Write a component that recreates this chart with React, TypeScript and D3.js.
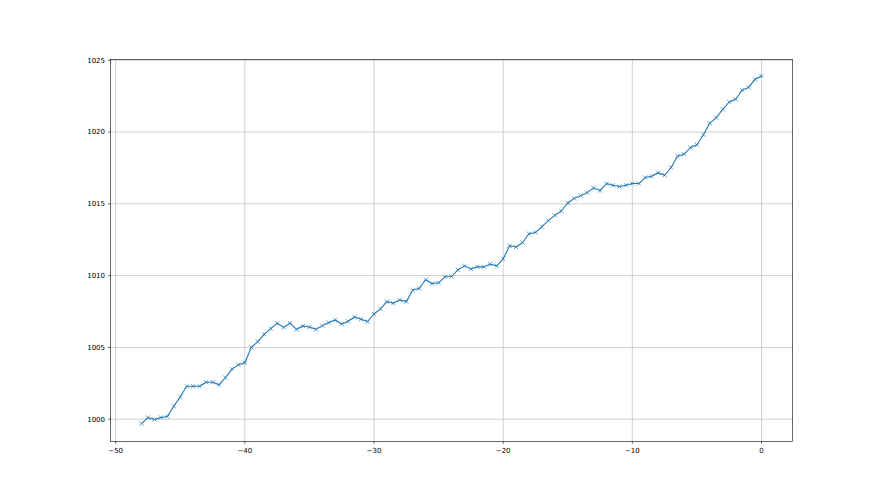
import React from "react";
import * as d3 from "d3";

const xValues: number[] = [
  -48, -47.5, -47, -46.5, -46, -45.5, -45, -44.5, -44, -43.5, -43, -42.5, -42, -41.5, -41, -40.5,
  -40, -39.5, -39, -38.5, -38, -37.5, -37, -36.5, -36, -35.5, -35, -34.5, -34, -33.5, -33, -32.5,
  -32, -31.5, -31, -30.5, -30, -29.5, -29, -28.5, -28, -27.5, -27, -26.5, -26, -25.5, -25, -24.5,
  -24, -23.5, -23, -22.5, -22, -21.5, -21, -20.5, -20, -19.5, -19, -18.5, -18, -17.5, -17, -16.5,
  -16, -15.5, -15, -14.5, -14, -13.5, -13, -12.5, -12, -11.5, -11, -10.5, -10, -9.5, -9, -8.5,
  -8, -7.5, -7, -6.5, -6, -5.5, -5, -4.5, -4, -3.5, -3, -2.5, -2, -1.5, -1, -0.5, 0,
];

const yValues: number[] = [
  999.7, 1000.12, 999.98, 1000.12, 1000.19, 1000.9, 1001.56, 1002.3, 1002.3, 1002.3, 1002.58, 1002.58,
  1002.4, 1002.9, 1003.49, 1003.79, 1003.93, 1005.0, 1005.4, 1005.91, 1006.31, 1006.68, 1006.4, 1006.7,
  1006.26, 1006.49, 1006.42, 1006.26, 1006.52, 1006.73, 1006.91, 1006.63, 1006.82, 1007.12, 1006.96, 1006.8,
  1007.33, 1007.68, 1008.19, 1008.08, 1008.31, 1008.19, 1009.0, 1009.1, 1009.71, 1009.45, 1009.5, 1009.92,
  1009.94, 1010.4, 1010.68, 1010.47, 1010.61, 1010.61, 1010.8, 1010.68, 1011.17, 1012.08, 1011.99, 1012.31,
  1012.92, 1013.01, 1013.41, 1013.83, 1014.2, 1014.5, 1015.06, 1015.38, 1015.57, 1015.78, 1016.11, 1015.92,
  1016.41, 1016.29, 1016.2, 1016.3, 1016.41, 1016.41, 1016.83, 1016.92, 1017.16, 1016.99, 1017.53, 1018.32,
  1018.46, 1018.92, 1019.11, 1019.81, 1020.62, 1021.0, 1021.58, 1022.09, 1022.28, 1022.91, 1023.11, 1023.67,
  1023.9,
];

const xTicks: number[] = [-50, -40, -30, -20, -10, 0];
const yTicks: number[] = [1000, 1005, 1010, 1015, 1020, 1025];

const W = 880;
const H = 495;
const left = 110.5;
const right = 792.5;
const top = 59.5;
const bottom = 441.5;
const color = "#1f77b4";
const font = "DejaVu Sans, sans-serif";
const fs = 7;

export default function App() {
  const x = d3.scaleLinear().domain([-50.4, 2.4]).range([left, right]);
  const y = d3.scaleLinear().domain([998.45, 1025.05]).range([bottom, top]);
  const pts = xValues.map((v, i) => [v, yValues[i]] as [number, number]);
  const line = d3
    .line<[number, number]>()
    .x((d) => x(d[0]))
    .y((d) => y(d[1]));
  const fmt = (v: number) => (v < 0 ? "\u2212" + Math.abs(v) : String(v));
  const m = 2.1;
  return (
    <svg
      width={W}
      height={H}
      style={{ position: "absolute", left: 0, top: 0, background: "#fff" }}
    >
      <rect x={0} y={0} width={W} height={H} fill="#fff" />
      {xTicks.map((t) => (
        <line key={"gx" + t} x1={x(t)} x2={x(t)} y1={top} y2={bottom} stroke="#b0b0b0" strokeWidth={0.6} />
      ))}
      {yTicks.map((t) => (
        <line key={"gy" + t} x1={left} x2={right} y1={y(t)} y2={y(t)} stroke="#b0b0b0" strokeWidth={0.6} />
      ))}
      <path d={line(pts) || ""} fill="none" stroke={color} strokeWidth={1.05} strokeLinejoin="round" />
      {pts.map((p, i) => {
        const cx = x(p[0]);
        const cy = y(p[1]);
        return (
          <path
            key={"m" + i}
            d={`M${cx - m},${cy - m}L${cx + m},${cy + m}M${cx - m},${cy + m}L${cx + m},${cy - m}`}
            stroke={color}
            strokeWidth={0.7}
            fill="none"
          />
        );
      })}
      <rect x={left} y={top} width={right - left} height={bottom - top} fill="none" stroke="#000" strokeWidth={0.6} />
      {xTicks.map((t) => (
        <g key={"tx" + t}>
          <line x1={x(t)} x2={x(t)} y1={bottom} y2={bottom + 2.4} stroke="#000" strokeWidth={0.6} />
          <text x={x(t)} y={bottom + 11} textAnchor="middle" fontFamily={font} fontSize={fs} fill="#000">
            {fmt(t)}
          </text>
        </g>
      ))}
      {yTicks.map((t) => (
        <g key={"ty" + t}>
          <line x1={left - 2.4} x2={left} y1={y(t)} y2={y(t)} stroke="#000" strokeWidth={0.6} />
          <text x={left - 5.5} y={y(t)} dy="0.35em" textAnchor="end" fontFamily={font} fontSize={fs} fill="#000">
            {fmt(t)}
          </text>
        </g>
      ))}
    </svg>
  );
}
